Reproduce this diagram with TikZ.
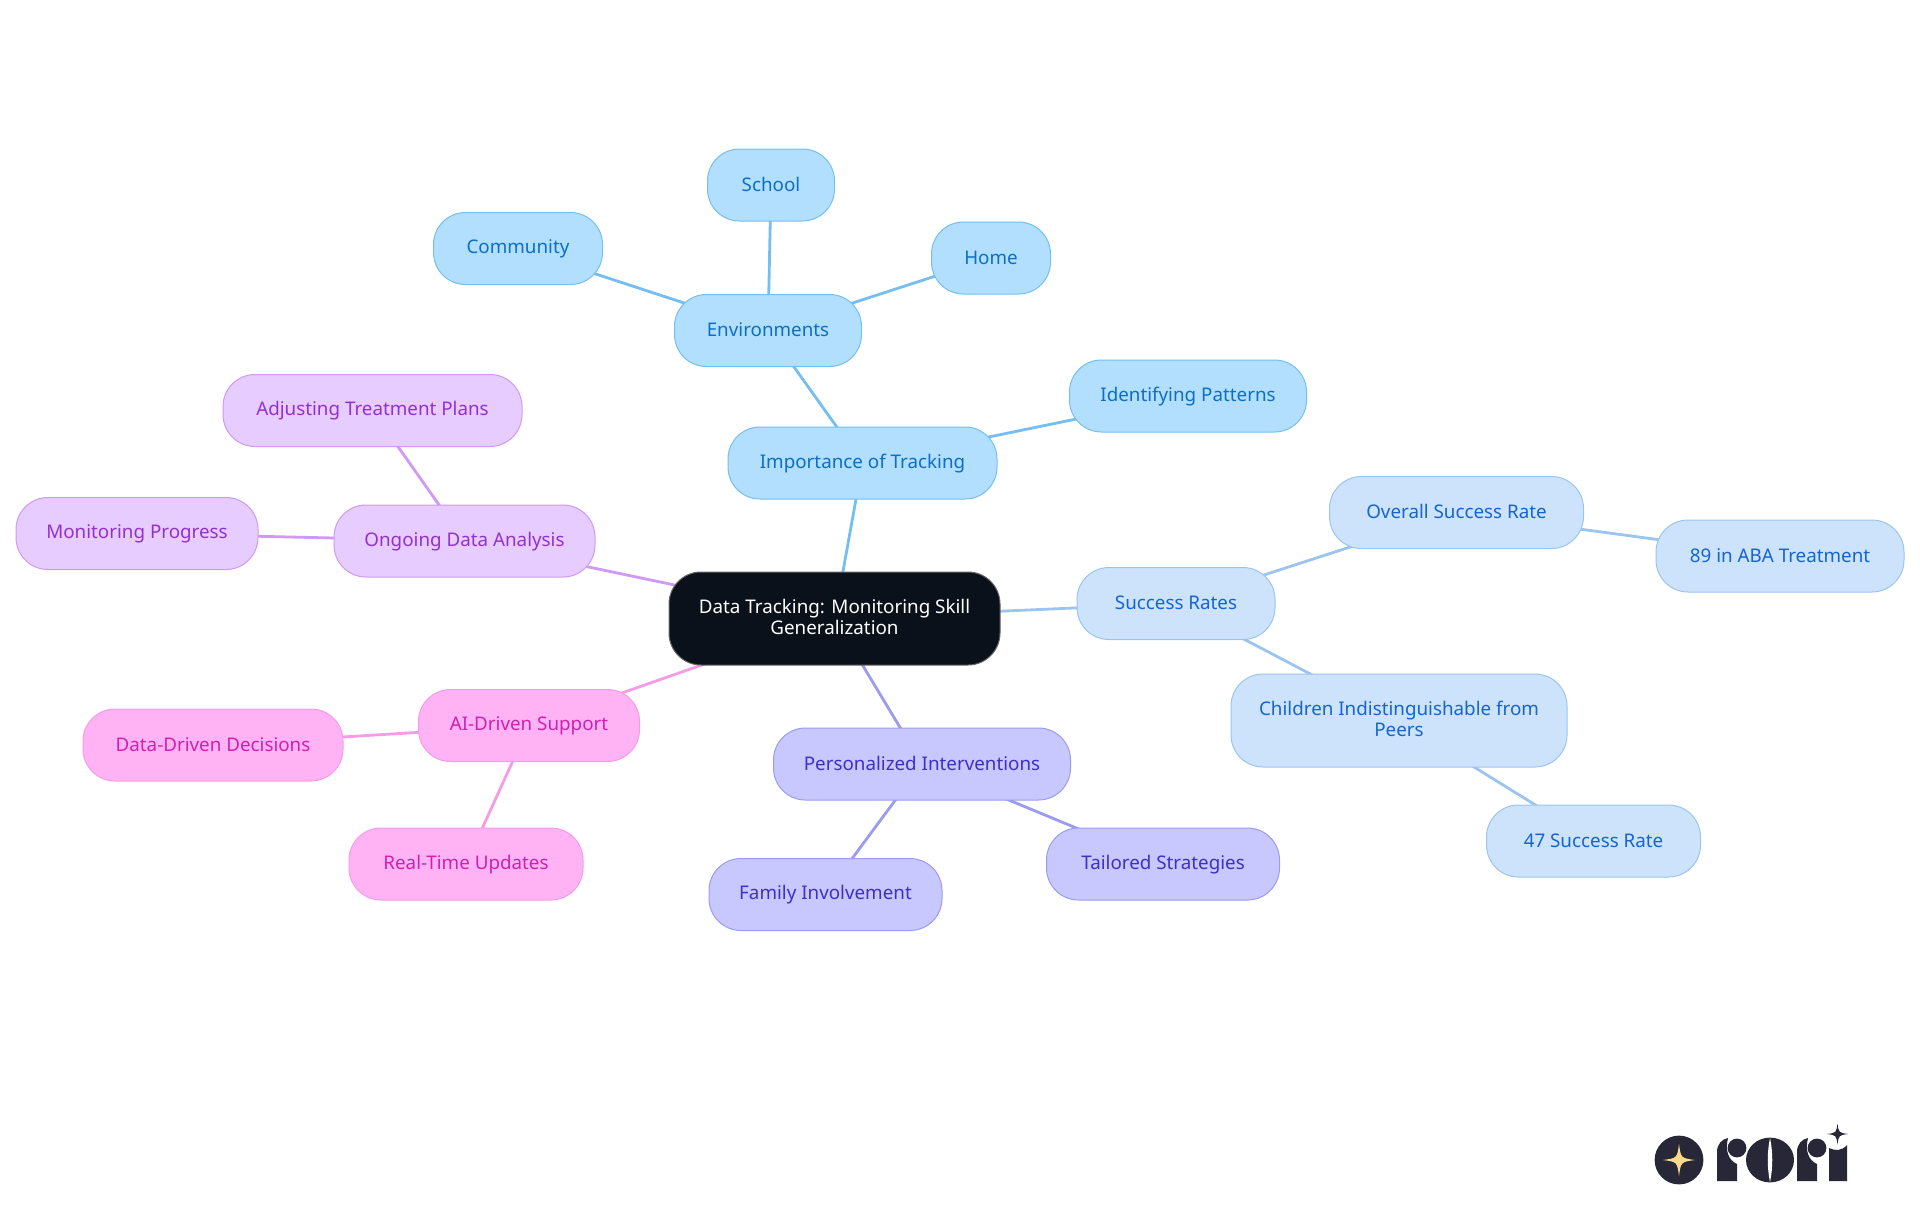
\documentclass[tikz,border=0pt]{standalone}
\usepackage{fontspec}
\setmainfont{Noto Sans}
\usetikzlibrary{backgrounds}

\definecolor{rootfill}{HTML}{0B111A}
\definecolor{skyfill}{HTML}{B3DFFF}
\definecolor{skyline}{HTML}{74BEF2}
\definecolor{skytext}{HTML}{0B6FC4}
\definecolor{palefill}{HTML}{CDE3FB}
\definecolor{paleline}{HTML}{9CC4F0}
\definecolor{paletext}{HTML}{1565D0}
\definecolor{violetfill}{HTML}{C8C8FF}
\definecolor{violetline}{HTML}{9B9BF0}
\definecolor{violettext}{HTML}{3F2FC8}
\definecolor{pinkfill}{HTML}{FFB3F4}
\definecolor{pinkline}{HTML}{F59BE8}
\definecolor{pinktext}{HTML}{D020B0}
\definecolor{lilacfill}{HTML}{E6CCFF}
\definecolor{lilacline}{HTML}{CF99F5}
\definecolor{lilactext}{HTML}{9430D0}
\definecolor{logodark}{HTML}{282737}
\definecolor{logogold}{HTML}{FBD98A}

\tikzset{
	topic/.style={rounded corners=16pt, line width=0.5pt, inner sep=0pt, align=center,
		minimum height=36pt, font=\fontsize{9.4}{10.5}\selectfont,
		execute at begin node={\rule[-1.5pt]{0pt}{9pt}}},
	root/.style={topic, draw=black!60, fill=rootfill, text=white},
	sky/.style={topic, draw=skyline, fill=skyfill, text=skytext},
	pale/.style={topic, draw=paleline, fill=palefill, text=paletext},
	violet/.style={topic, draw=violetline, fill=violetfill, text=violettext},
	pinky/.style={topic, draw=pinkline, fill=pinkfill, text=pinktext},
	lilac/.style={topic, draw=lilacline, fill=lilacfill, text=lilactext},
	link/.style={line width=1.4pt}
}

\newcommand{\logostar}[4]{
\fill[#4] (#1 + #3, #2) .. controls (#1 + 0.12*#3, #2 + 0.12*#3) .. (#1, #2 + #3)
	.. controls (#1 - 0.12*#3, #2 + 0.12*#3) .. (#1 - #3, #2)
	.. controls (#1 - 0.12*#3, #2 - 0.12*#3) .. (#1, #2 - #3)
	.. controls (#1 + 0.12*#3, #2 - 0.12*#3) .. cycle;
}

\begin{document}
\begin{tikzpicture}[x=0.5pt, y=-0.5pt]

\useasboundingbox (0, 0) rectangle (1920, 1215);

\node[root, minimum width=165.5pt, minimum height=46.5pt] (tracking) at (834.5, 618.5) {Data Tracking: Monitoring Skill\\Generalization};

\foreach \name/\x/\y/\w/\text in {
	importance/862.5/463/134.5/Importance of Tracking,
	environments/768/330.5/93.5/Environments,
	school/771/185/63.5/School,
	community/518/248.5/84.5/Community,
	home/991/258/59.5/Home,
	patterns/1188/396/118.5/Identifying Patterns}
\node[sky, minimum width=\w pt] (\name) at (\x, \y) {\text};

\foreach \name/\x/\y/\w/\text in {
	success/1176/603.5/99/Success Rates,
	overall/1456.5/512.5/127/Overall Success Rate,
	aba/1780/556/124/89 in ABA Treatment,
	rate/1593.5/841/107/47 Success Rate}
\node[pale, minimum width=\w pt] (\name) at (\x, \y) {\text};
\node[pale, minimum width=168pt, minimum height=46.5pt] (peers) at (1399, 720.5) {Children Indistinguishable from\\Peers};

\foreach \name/\x/\y/\w/\text in {
	personalized/922/764/148.5/Personalized Interventions,
	family/825.5/894.5/116.5/Family Involvement,
	tailored/1163/864/116.5/Tailored Strategies}
\node[violet, minimum width=\w pt] (\name) at (\x, \y) {\text};

\foreach \name/\x/\y/\w/\text in {
	support/529/725.5/110.5/AI-Driven Support,
	decisions/213/745/130/Data-Driven Decisions,
	updates/466/864/117/Real-Time Updates}
\node[pinky, minimum width=\w pt] (\name) at (\x, \y) {\text};

\foreach \name/\x/\y/\w/\text in {
	analysis/464.5/541/130.5/Ongoing Data Analysis,
	plans/372.5/410.5/149.5/Adjusting Treatment Plans,
	progress/137/533.5/121/Monitoring Progress}
\node[lilac, minimum width=\w pt] (\name) at (\x, \y) {\text};

\begin{scope}[on background layer]
\foreach \a/\b in {tracking/importance, importance/environments, environments/school,
	environments/community, environments/home, importance/patterns}
\draw[link, skyline] (\a.center) -- (\b.center);
\foreach \a/\b in {tracking/success, success/overall, overall/aba, success/peers, peers/rate}
\draw[link, paleline] (\a.center) -- (\b.center);
\foreach \a/\b in {tracking/personalized, personalized/family, personalized/tailored}
\draw[link, violetline] (\a.center) -- (\b.center);
\foreach \a/\b in {tracking/support, support/decisions, support/updates}
\draw[link, pinkline] (\a.center) -- (\b.center);
\foreach \a/\b in {tracking/analysis, analysis/plans, analysis/progress}
\draw[link, lilacline] (\a.center) -- (\b.center);
\end{scope}

% logo
\fill[logodark] (1679, 1160) circle (12.2pt);
\logostar{1679}{1160}{16}{logogold}
\foreach \x in {0, 80} {
	\fill[logodark, xshift=\x*0.5pt] (1717, 1181) -- (1717, 1152)
		.. controls (1717, 1144) and (1722, 1139) .. (1728, 1138)
		.. controls (1725, 1150) and (1728, 1160) .. (1737, 1164) -- (1737, 1181) -- cycle;
	\fill[logodark, xshift=\x*0.5pt] (1737, 1148) circle (4.7pt);
}
\fill[logodark] (1770, 1160) ellipse (12pt and 11.2pt);
\fill[white] (1770, 1138) .. controls (1767, 1152) and (1767, 1168) .. (1770, 1182)
	.. controls (1773, 1168) and (1773, 1152) .. (1770, 1138) -- cycle;
\fill[logodark] (1829, 1181) -- (1829, 1148) .. controls (1835, 1151) and (1842, 1151) .. (1847, 1145)
	-- (1847, 1181) -- cycle;
\logostar{1837.5}{1134}{10.5}{logodark}

\end{tikzpicture}
\end{document}
